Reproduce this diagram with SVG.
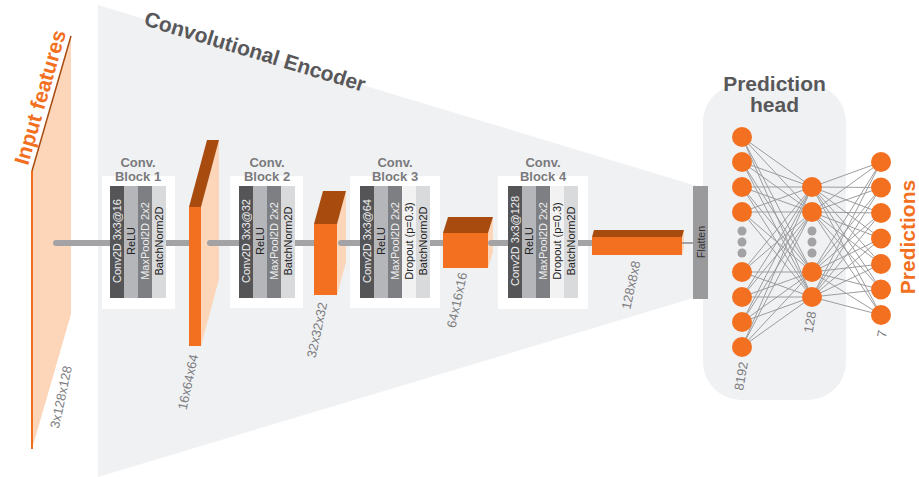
<svg xmlns="http://www.w3.org/2000/svg" width="919" height="477" viewBox="0 0 919 477">
  <defs>
    <style>
      .bg { fill: #f0f1f3; }
      .box { fill: #ffffff; }
      .title { font-family: "Liberation Sans", Arial, sans-serif; font-weight: bold; font-size: 13px; fill: #7a7a7d; text-anchor: middle; }
      .bar-t { font-family: "Liberation Sans", Arial, sans-serif; font-size: 11px; text-anchor: middle; dominant-baseline: central; }
      .b1 { fill: #555558; } .b2 { fill: #b5b6b9; } .b3 { fill: #7e7f83; } .b4 { fill: #f2f2f2; } .b5 { fill: #d9dadc; }
      .tl { fill: #eeeeee; } .td { fill: #222222; }
      .front { fill: #f37021; } .top { fill: #a84b0f; } .side { fill: #fdd5b8; }
      .dim { font-family: "Liberation Sans", Arial, sans-serif; font-size: 13px; fill: #7c7c7f; text-anchor: middle; dominant-baseline: central; }
      .pipe { stroke: #a3a3a6; stroke-width: 6; fill: none; }
      .capped { marker-start: url(#cap); }
      .edge { stroke: #9d9d9f; stroke-width: 1; fill: none; }
      .neuron { fill: #f37021; }
      .dot { fill: #a3a3a6; }
      .orange-t { font-family: "Liberation Sans", Arial, sans-serif; font-weight: bold; font-size: 21px; fill: #f37021; }
      .dark-t { font-family: "Liberation Sans", Arial, sans-serif; font-weight: bold; font-size: 21px; fill: #58585a; }
    </style>
    <marker id="cap" viewBox="-0.5 -0.5 1 1" refX="0" refY="0" markerWidth="1" markerHeight="1" markerUnits="strokeWidth">
      <circle r="0.5" fill="#a3a3a6"/>
    </marker>
  </defs>

  <!-- backgrounds: encoder funnel and prediction head panel -->
  <polygon class="bg" points="98,5 700,187 700,296 98,477"/>
  <rect class="bg" x="703" y="84" width="143" height="316" rx="38" ry="38"/>
  <text class="dark-t" transform="translate(143,25) rotate(16.9)">Convolutional Encoder</text>

  <!-- input tensor -->
  <g id="input">
    <polygon class="side" points="32,171 71,36 71,314 32,449"/>
    <line x1="32" y1="171" x2="32" y2="449" stroke="#f07020" stroke-width="2"/>
    <line x1="32" y1="171" x2="71" y2="36" stroke="#a84b0f" stroke-width="1.5"/>
    <text class="orange-t" transform="translate(28,166) rotate(-74)">Input features</text>
    <text class="dim" transform="translate(61,397) rotate(-78)">3x128x128</text>
  </g>

  <!-- convolution blocks -->
  <g id="block1">
    <rect class="box" x="102" y="176" width="73" height="133"/>
    <text class="title" x="138" y="167">Conv.</text>
    <text class="title" x="138" y="180.5">Block 1</text>
    <rect class="b1" x="110" y="186" width="14" height="112"/>
    <rect class="b2" x="124" y="186" width="14" height="112"/>
    <rect class="b3" x="138" y="186" width="14" height="112"/>
    <rect class="b5" x="152" y="186" width="14" height="112"/>
    <text class="bar-t tl" transform="translate(117,241) rotate(-90)">Conv2D 3x3@16</text>
    <text class="bar-t td" transform="translate(131,241) rotate(-90)">ReLU</text>
    <text class="bar-t tl" transform="translate(145,241) rotate(-90)">MaxPool2D 2x2</text>
    <text class="bar-t td" transform="translate(159,241) rotate(-90)">BatchNorm2D</text>
  </g>

  <g id="block2">
    <rect class="box" x="230" y="176" width="73" height="132"/>
    <text class="title" x="267" y="167">Conv.</text>
    <text class="title" x="267" y="180.5">Block 2</text>
    <rect class="b1" x="239" y="186" width="14" height="112"/>
    <rect class="b2" x="253" y="186" width="14" height="112"/>
    <rect class="b3" x="267" y="186" width="14" height="112"/>
    <rect class="b5" x="281" y="186" width="14" height="112"/>
    <text class="bar-t tl" transform="translate(246,241) rotate(-90)">Conv2D 3x3@32</text>
    <text class="bar-t td" transform="translate(260,241) rotate(-90)">ReLU</text>
    <text class="bar-t tl" transform="translate(274,241) rotate(-90)">MaxPool2D 2x2</text>
    <text class="bar-t td" transform="translate(288,241) rotate(-90)">BatchNorm2D</text>
  </g>

  <g id="block3">
    <rect class="box" x="350" y="176" width="90" height="132"/>
    <text class="title" x="395" y="167">Conv.</text>
    <text class="title" x="395" y="180.5">Block 3</text>
    <rect class="b1" x="360" y="186" width="14" height="112"/>
    <rect class="b2" x="374" y="186" width="14" height="112"/>
    <rect class="b3" x="388" y="186" width="14" height="112"/>
    <rect class="b4" x="402" y="186" width="14" height="112"/>
    <rect class="b5" x="416" y="186" width="14" height="112"/>
    <text class="bar-t tl" transform="translate(367,241) rotate(-90)">Conv2D 3x3@64</text>
    <text class="bar-t td" transform="translate(381,241) rotate(-90)">ReLU</text>
    <text class="bar-t tl" transform="translate(395,241) rotate(-90)">MaxPool2D 2x2</text>
    <text class="bar-t td" transform="translate(409,241) rotate(-90)">Dropout (p=0.3)</text>
    <text class="bar-t td" transform="translate(423,241) rotate(-90)">BatchNorm2D</text>
  </g>

  <g id="block4">
    <rect class="box" x="498" y="176" width="90" height="133"/>
    <text class="title" x="543" y="167">Conv.</text>
    <text class="title" x="543" y="180.5">Block 4</text>
    <rect class="b1" x="508" y="186" width="14" height="112"/>
    <rect class="b2" x="522" y="186" width="14" height="112"/>
    <rect class="b3" x="536" y="186" width="14" height="112"/>
    <rect class="b4" x="550" y="186" width="14" height="112"/>
    <rect class="b5" x="564" y="186" width="14" height="112"/>
    <text class="bar-t tl" transform="translate(515,241) rotate(-90)">Conv2D 3x3@128</text>
    <text class="bar-t td" transform="translate(529,241) rotate(-90)">ReLU</text>
    <text class="bar-t tl" transform="translate(543,241) rotate(-90)">MaxPool2D 2x2</text>
    <text class="bar-t td" transform="translate(557,241) rotate(-90)">Dropout (p=0.3)</text>
    <text class="bar-t td" transform="translate(571,241) rotate(-90)">BatchNorm2D</text>
  </g>

  <!-- feature maps drawn as boxes -->
  <g id="fmap1">
    <polygon class="side" points="201,207 219,140 219,279 201,346"/>
    <polygon class="top" points="189,207 201,207 219,140 207,140"/>
    <rect class="front" x="189" y="207" width="12" height="139"/>
    <text class="dim" transform="translate(188,382) rotate(-78)">16x64x64</text>
  </g>
  <g id="fmap2">
    <polygon class="side" points="337,224 346,191 346,262 337,295"/>
    <polygon class="top" points="314,224 337,224 346,191 323,191"/>
    <rect class="front" x="314" y="224" width="23" height="71"/>
    <text class="dim" transform="translate(317,330) rotate(-78)">32x32x32</text>
  </g>
  <g id="fmap3">
    <polygon class="side" points="488,233 493,217 493,252 488,268"/>
    <polygon class="top" points="443,233 488,233 493,217 448,217"/>
    <rect class="front" x="443" y="233" width="45" height="35"/>
    <text class="dim" transform="translate(457,300) rotate(-78)">64x16x16</text>
  </g>
  <g id="fmap4">
    <polygon class="side" points="682,237 684,230 684,248 682,255"/>
    <polygon class="top" points="592,237 682,237 684,230 594,230"/>
    <rect class="front" x="592" y="237" width="90" height="18"/>
    <text class="dim" transform="translate(631,285) rotate(-78)">128x8x8</text>
  </g>

  <g id="flatten">
    <rect x="693" y="186" width="15" height="113" fill="#9a9a9d"/>
    <text transform="translate(700.5,242) rotate(-90)" font-family="'Liberation Sans', Arial, sans-serif" font-size="10.5" fill="#333333" text-anchor="middle" dominant-baseline="central">Flatten</text>
  </g>

  <!-- data flow along the encoder -->
  <g id="connectors">
    <line class="pipe capped" x1="56" y1="243" x2="110" y2="243"/>
    <line class="pipe" x1="166" y1="243" x2="189" y2="243"/>
    <line class="pipe capped" x1="210" y1="243" x2="239" y2="243"/>
    <line class="pipe" x1="295" y1="243" x2="314" y2="243"/>
    <line class="pipe capped" x1="341" y1="243" x2="360" y2="243"/>
    <line class="pipe" x1="430" y1="243" x2="443" y2="243"/>
    <line class="pipe capped" x1="491" y1="243" x2="508" y2="243"/>
    <line class="pipe" x1="578" y1="243" x2="592" y2="243"/>
    <line x1="682" y1="243" x2="693" y2="243" stroke="#a3a3a6" stroke-width="2"/>
    <!-- dense layer weights: 8192 -> 128 -->
    <path class="edge" d="M742,137 L812,187 M742,137 L812,212 M742,137 L812,272 M742,137 L812,297
      M742,162 L812,187 M742,162 L812,212 M742,162 L812,272 M742,162 L812,297
      M742,187 L812,187 M742,187 L812,212 M742,187 L812,272 M742,187 L812,297
      M742,212 L812,187 M742,212 L812,212 M742,212 L812,272 M742,212 L812,297
      M742,272 L812,187 M742,272 L812,212 M742,272 L812,272 M742,272 L812,297
      M742,297 L812,187 M742,297 L812,212 M742,297 L812,272 M742,297 L812,297
      M742,322 L812,187 M742,322 L812,212 M742,322 L812,272 M742,322 L812,297
      M742,347 L812,187 M742,347 L812,212 M742,347 L812,272 M742,347 L812,297"/>
    <!-- dense layer weights: 128 -> 7 -->
    <path class="edge" d="M812,187 L881,162 M812,187 L881,187.5 M812,187 L881,213 M812,187 L881,238.5 M812,187 L881,264 M812,187 L881,289.5 M812,187 L881,315
      M812,212 L881,162 M812,212 L881,187.5 M812,212 L881,213 M812,212 L881,238.5 M812,212 L881,264 M812,212 L881,289.5 M812,212 L881,315
      M812,272 L881,162 M812,272 L881,187.5 M812,272 L881,213 M812,272 L881,238.5 M812,272 L881,264 M812,272 L881,289.5 M812,272 L881,315
      M812,297 L881,162 M812,297 L881,187.5 M812,297 L881,213 M812,297 L881,238.5 M812,297 L881,264 M812,297 L881,289.5 M812,297 L881,315"/>
  </g>

  <!-- prediction head -->
  <g id="head">
    <text class="dark-t" x="774.5" y="91" text-anchor="middle" font-size="20.5">Prediction</text>
    <text class="dark-t" x="774.5" y="112" text-anchor="middle" font-size="20.5">head</text>
  </g>

  <g id="layer8192">
    <circle class="neuron" cx="742" cy="137" r="10"/>
    <circle class="neuron" cx="742" cy="162" r="10"/>
    <circle class="neuron" cx="742" cy="187" r="10"/>
    <circle class="neuron" cx="742" cy="212" r="10"/>
    <circle class="dot" cx="742" cy="231" r="4.5"/>
    <circle class="dot" cx="742" cy="242" r="4.5"/>
    <circle class="dot" cx="742" cy="253" r="4.5"/>
    <circle class="neuron" cx="742" cy="272" r="10"/>
    <circle class="neuron" cx="742" cy="297" r="10"/>
    <circle class="neuron" cx="742" cy="322" r="10"/>
    <circle class="neuron" cx="742" cy="347" r="10"/>
    <text class="dim" transform="translate(741,376) rotate(-80)">8192</text>
  </g>

  <g id="layer128">
    <circle class="neuron" cx="812" cy="187" r="10"/>
    <circle class="neuron" cx="812" cy="212" r="10"/>
    <circle class="dot" cx="812" cy="231" r="4.5"/>
    <circle class="dot" cx="812" cy="242" r="4.5"/>
    <circle class="dot" cx="812" cy="253" r="4.5"/>
    <circle class="neuron" cx="812" cy="272" r="10"/>
    <circle class="neuron" cx="812" cy="297" r="10"/>
    <text class="dim" transform="translate(810,322) rotate(-80)">128</text>
  </g>

  <g id="layer7">
    <circle class="neuron" cx="881" cy="162" r="10"/>
    <circle class="neuron" cx="881" cy="187.5" r="10"/>
    <circle class="neuron" cx="881" cy="213" r="10"/>
    <circle class="neuron" cx="881" cy="238.5" r="10"/>
    <circle class="neuron" cx="881" cy="264" r="10"/>
    <circle class="neuron" cx="881" cy="289.5" r="10"/>
    <circle class="neuron" cx="881" cy="315" r="10"/>
    <text class="dim" transform="translate(882,334) rotate(-80)">7</text>
    <text class="orange-t" transform="translate(915,237) rotate(-90)" text-anchor="middle" font-size="20.5">Predictions</text>
  </g>
</svg>
